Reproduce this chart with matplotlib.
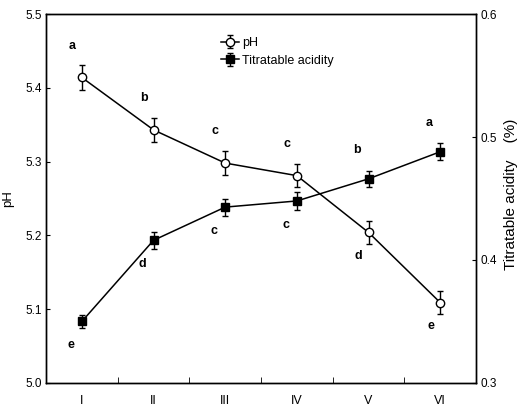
import numpy as np
import matplotlib
matplotlib.use("Agg")
import matplotlib.pyplot as plt

plt.rcParams["font.family"] = ["Liberation Sans", "DejaVu Sans"]

# treatments
groups = ["I", "II", "III", "IV", "V", "VI"]

# pH (left axis)
ph = [5.414, 5.343, 5.298, 5.281, 5.204, 5.109]
ph_err = [0.017, 0.016, 0.016, 0.016, 0.016, 0.015]
ph_letters = ["a", "b", "c", "c", "d", "e"]

# titratable acidity (right axis, %)
ta = [0.350, 0.416, 0.443, 0.448, 0.466, 0.488]
ta_err = [0.005, 0.007, 0.007, 0.007, 0.0065, 0.007]
ta_letters = ["e", "d", "c", "c", "b", "a"]

x = np.arange(1, len(groups) + 1)

fig = plt.figure(figsize=(5.18, 4.12), dpi=100)
ax = fig.add_axes([0.0888, 0.0704, 0.8302, 0.8956])
ax2 = ax.twinx()

l1 = ax.errorbar(x, ph, yerr=ph_err, color="black", lw=1.1, marker="o",
                 markersize=6, markerfacecolor="white", markeredgecolor="black",
                 markeredgewidth=1, capsize=2.5, elinewidth=1, capthick=1,
                 label="pH")
l2 = ax2.errorbar(x, ta, yerr=ta_err, color="black", lw=1.1, marker="s",
                  markersize=5.5, markerfacecolor="black", capsize=2.5,
                  elinewidth=1, capthick=1, label="Titratable acidity")

ax.set_xlim(0.5, 6.5)
ax.set_ylim(5.0, 5.5)
ax2.set_ylim(0.3, 0.6)

# significance letters: put each on the side away from the other curve
ph_frac = (np.array(ph) - 5.0) / 0.5
ta_frac = (np.array(ta) - 0.3) / 0.3
for i in range(len(groups)):
    up = ph_frac[i] > ta_frac[i]
    ax.annotate(ph_letters[i], (x[i], ph[i]), xytext=(-7, 23 if up else -17),
                textcoords="offset points", ha="center", va="center",
                fontsize=9, fontweight="bold")
    ax2.annotate(ta_letters[i], (x[i], ta[i]), xytext=(-8, -17 if up else 21),
                 textcoords="offset points", ha="center", va="center",
                 fontsize=9, fontweight="bold")

ax.set_yticks([5.0, 5.1, 5.2, 5.3, 5.4, 5.5])
ax.set_yticklabels(["5.0", "5.1", "5.2", "5.3", "5.4", "5.5"])
ax2.set_yticks([0.3, 0.4, 0.5, 0.6])
ax2.set_yticklabels(["0.3", "0.4", "0.5", "0.6"])

ax.set_xticks(x)
ax.set_xticklabels(groups)
ax.set_xticks(np.arange(1.5, 6.5, 1.0), minor=True)
ax.tick_params(axis="x", which="major", length=0, pad=9, labelsize=9)
ax.tick_params(axis="x", which="minor", direction="in", length=4)
ax.tick_params(axis="y", direction="in", length=3, pad=3, labelsize=8.5)
ax2.tick_params(axis="y", direction="in", length=3, pad=3, labelsize=8.5)

ax.set_ylabel("pH", fontsize=9.5)
ax.yaxis.set_label_coords(-0.075, 0.5)
ax2.set_ylabel("Titratable acidity    (%)", fontsize=11)
ax2.yaxis.set_label_coords(1.066, 0.51)

for a in (ax, ax2):
    for s in a.spines.values():
        s.set_linewidth(1)

ax2.legend([l1, l2], ["pH", "Titratable acidity"], loc="upper left",
           bbox_to_anchor=(221 / 518, 1 - 37 / 412), bbox_transform=fig.transFigure,
           frameon=False, fontsize=9, handlelength=1.4, handletextpad=0.3,
           labelspacing=0.45, borderpad=0, borderaxespad=0)

fig.savefig("out.png", dpi=100)
